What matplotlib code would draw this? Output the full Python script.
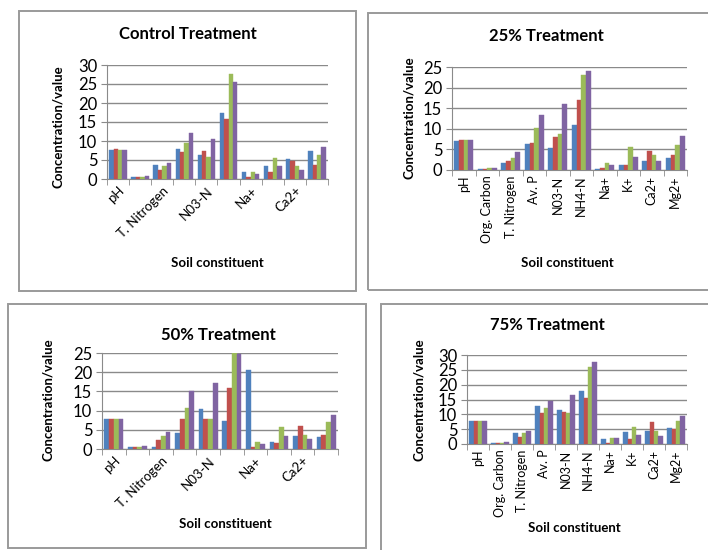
import matplotlib.pyplot as plt
from matplotlib.patches import Rectangle
import numpy as np

plt.rcParams['font.family'] = ['Lato', 'DejaVu Sans']

W, H = 708, 550

constituents = ['pH', 'Org. Carbon', 'T. Nitrogen', 'Av. P', 'N03-N',
                'NH4-N', 'Na+', 'K+', 'Ca2+', 'Mg2+']

# four readings per constituent (blue, red, green, purple series)
control = [[7.7, 7.9, 7.7, 7.7],
           [0.5, 0.5, 0.5, 0.7],
           [3.7, 2.5, 3.3, 4.3],
           [7.8, 7.0, 9.6, 12.2],
           [6.3, 7.4, 5.8, 10.5],
           [17.5, 15.8, 27.7, 25.5],
           [1.8, 0.6, 1.8, 1.4],
           [3.5, 1.8, 5.4, 3.3],
           [5.3, 4.8, 3.3, 2.5],
           [7.3, 3.8, 6.4, 8.3]]

t25 = [[7.1, 7.2, 7.2, 7.4],
       [0.3, 0.3, 0.4, 0.6],
       [1.7, 2.1, 3.0, 4.4],
       [6.3, 6.5, 10.3, 13.4],
       [5.3, 8.0, 8.8, 15.9],
       [11.0, 17.0, 23.0, 24.0],
       [0.3, 0.5, 1.7, 1.3],
       [1.1, 1.3, 5.5, 3.1],
       [2.3, 4.5, 3.6, 2.3],
       [2.8, 3.6, 6.1, 8.3]]

t50 = [[7.9, 7.9, 7.8, 7.8],
       [0.6, 0.5, 0.5, 0.7],
       [0.6, 2.3, 3.5, 4.5],
       [4.2, 7.7, 10.7, 15.0],
       [10.4, 7.7, 7.9, 17.3],
       [7.4, 16.0, 25.2, 24.8],
       [20.7, 0.6, 1.9, 1.4],
       [1.9, 1.5, 5.6, 3.3],
       [3.3, 6.1, 3.7, 2.5],
       [3.1, 3.6, 7.0, 8.9]]

t75 = [[7.9, 7.9, 7.9, 7.6],
       [0.5, 0.5, 0.5, 0.6],
       [3.6, 2.3, 3.8, 4.4],
       [12.8, 10.3, 12.2, 14.5],
       [11.3, 10.7, 10.3, 16.6],
       [17.8, 15.4, 25.8, 27.5],
       [1.8, 0.5, 1.9, 1.9],
       [3.9, 1.8, 5.8, 3.2],
       [4.3, 7.4, 4.3, 2.8],
       [5.3, 5.2, 7.7, 9.5]]

colors = ['#4F81BD', '#C0504D', '#9BBB59', '#8064A2']

fig = plt.figure(figsize=(W / 100, H / 100), dpi=100)


def frac(x, y):
    return x / W, 1 - y / H


def box(x0, y0, x1, y1):
    fx, fy = frac(x0, y1)
    r = Rectangle((fx, fy), (x1 - x0) / W, (y1 - y0) / H, transform=fig.transFigure,
                  fill=False, edgecolor='#9a9a9a', lw=1.4)
    fig.patches.append(r)


def panel(data, title, ymax, every_other, plot_px, title_px, ylab_px, xlab_px):
    x0, y0, x1, y1 = plot_px
    fx, fy = frac(x0, y1)
    ax = fig.add_axes([fx, fy, (x1 - x0) / W, (y1 - y0) / H])
    vals = np.array(data)
    n = len(constituents)
    x = np.arange(n)
    bw = 0.2
    for k in range(4):
        ax.bar(x + (k - 1.5) * bw, vals[:, k], width=bw, color=colors[k],
               edgecolor=colors[k], lw=0.3, zorder=3)
    ax.set_xlim(-0.5, n - 0.5)
    ax.set_ylim(0, ymax)
    ax.set_yticks(np.arange(0, ymax + 1, 5))
    ax.yaxis.grid(True, color='#8a8a8a', lw=1.0, zorder=0)
    for s in ['top', 'right']:
        ax.spines[s].set_visible(False)
    ax.spines['left'].set_color('#8a8a8a')
    ax.spines['bottom'].set_color('#8a8a8a')
    ax.tick_params(axis='y', labelsize=12, color='#8a8a8a', length=4, pad=3)
    ax.set_xticks(np.arange(-0.5, n, 1), minor=True)
    ax.tick_params(axis='x', which='minor', length=4, color='#8a8a8a')
    if every_other:
        ax.set_xticks(x[::2])
        ax.set_xticklabels(constituents[::2], rotation=45, ha='right',
                           rotation_mode='anchor', fontsize=9.5)
    else:
        ax.set_xticks(x)
        ax.set_xticklabels(constituents, rotation=90, fontsize=9)
    ax.tick_params(axis='x', which='major', length=0, pad=4)
    tx, ty = frac(*title_px)
    fig.text(tx, ty, title, ha='center', va='center', fontsize=12, fontweight='bold')
    lx, ly = frac(*ylab_px)
    fig.text(lx, ly, 'Concentration/value', ha='center', va='center', rotation=90,
             fontsize=9.5, fontweight='bold')
    sx, sy = frac(*xlab_px)
    fig.text(sx, sy, 'Soil constituent', ha='center', va='center', fontsize=9.5,
             fontweight='bold')
    return ax


# panel frames
box(19, 11, 356, 291)
box(368, 13, 720, 290)
box(8, 304, 366, 548)
box(381, 304, 720, 560)

panel(control, 'Control Treatment', 30, True,
      (107, 65, 328, 179), (188, 34), (58, 127), (217, 263))
panel(t25, '25% Treatment', 25, False,
      (452, 67, 687, 170), (546, 36), (409, 118), (567, 263))
panel(t50, '50% Treatment', 25, True,
      (102, 353, 338, 449), (218, 335), (48, 400), (225, 524))
panel(t75, '75% Treatment', 30, False,
      (467, 355, 687, 444), (547, 325), (419, 400), (574, 528))

fig.savefig('out.png', dpi=100)
